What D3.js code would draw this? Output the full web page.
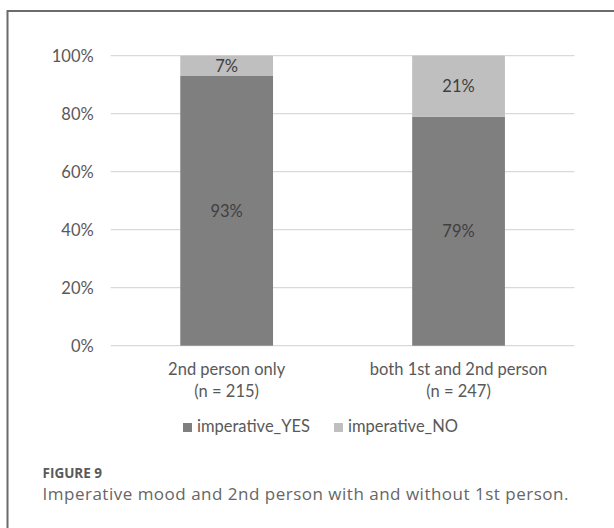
<!DOCTYPE html>
<html>
<head>
<meta charset="utf-8">
<script src="https://cdn.jsdelivr.net/npm/d3@7/dist/d3.min.js"></script>
<style>
  html, body { margin: 0; padding: 0; background: #fff; }
  svg { display: block; }
</style>
</head>
<body>
<script>
// Stacked 100% bars: share of imperative mood by person combination
const categories = ["2nd person only", "both 1st and 2nd person"];
const sampleSizes = ["(n = 215)", "(n = 247)"];
const imperativeYes = [93, 79];
const imperativeNo = [7, 21];
const seriesNames = ["imperative_YES", "imperative_NO"];
const yTicks = [0, 20, 40, 60, 80, 100];

const W = 614, H = 528;
const colors = ["#7f7f7f", "#bfbfbf"];
const font = "Lato, 'Open Sans', sans-serif";
const fs = 16.5;

const svg = d3.select("body").append("svg").attr("width", W).attr("height", H);

// Panel frame (top and left edges)
svg.append("path")
  .attr("d", `M7.5,${H} V11 H${W}`)
  .attr("fill", "none").attr("stroke", "#6b6b6b").attr("stroke-width", 2);

const plot = { left: 110.7, right: 574.5, top: 55.7, bottom: 345.7 };

const x = d3.scaleBand().domain(categories)
  .range([plot.left, plot.right]).paddingInner(0.6).paddingOuter(0.3);
const y = d3.scaleLinear().domain([0, 100]).range([plot.bottom, plot.top]);

// Gridlines
svg.append("g").selectAll("line").data(yTicks).join("line")
  .attr("x1", plot.left).attr("x2", plot.right)
  .attr("y1", d => y(d)).attr("y2", d => y(d))
  .attr("stroke", "#d9d9d9").attr("stroke-width", 1.3);

// Y axis labels
const yAxis = d3.axisLeft(y).tickValues(yTicks).tickFormat(d => d + "%").tickSize(0).tickPadding(0);
const yg = svg.append("g").attr("transform", `translate(${plot.left - 17},0)`).call(yAxis);
yg.select(".domain").remove();
yg.selectAll("text").attr("font-family", font).attr("font-size", fs)
  .attr("fill", "#595959").attr("dy", "0.35em");

// Stack the series
const rows = categories.map((c, i) => ({ cat: c, yes: imperativeYes[i], no: imperativeNo[i] }));
const stack = d3.stack().keys(["yes", "no"])(rows);

const layers = svg.append("g").selectAll("g").data(stack).join("g")
  .attr("fill", (d, i) => colors[i]);
layers.selectAll("rect").data(d => d).join("rect")
  .attr("x", d => x(d.data.cat))
  .attr("width", x.bandwidth())
  .attr("y", d => y(d[1]))
  .attr("height", d => y(d[0]) - y(d[1]));

// Value labels centred in each segment
layers.selectAll("text").data(d => d.map(s => ({ s, key: d.key }))).join("text")
  .attr("x", d => x(d.s.data.cat) + x.bandwidth() / 2)
  .attr("y", d => (y(d.s[0]) + y(d.s[1])) / 2)
  .attr("dy", "0.36em")
  .attr("text-anchor", "middle")
  .attr("font-family", font).attr("font-size", fs)
  .attr("fill", "#404040")
  .text(d => d.s.data[d.key] + "%");

// Category labels (two lines)
const xl = svg.append("g").selectAll("text").data(categories).join("text")
  .attr("text-anchor", "middle")
  .attr("font-family", font).attr("font-size", fs).attr("fill", "#595959");
xl.append("tspan").attr("x", d => x(d) + x.bandwidth() / 2).attr("y", 375).text(d => d);
xl.append("tspan").attr("x", d => x(d) + x.bandwidth() / 2).attr("y", 397)
  .text((d, i) => sampleSizes[i]);

// Legend
const legendX = [183, 334];
const lg = svg.append("g").selectAll("g").data(seriesNames).join("g")
  .attr("transform", (d, i) => `translate(${legendX[i]},0)`);
lg.append("rect").attr("x", 0).attr("y", 423).attr("width", 9).attr("height", 9)
  .attr("fill", (d, i) => colors[i]);
lg.append("text").attr("x", 14).attr("y", 432)
  .attr("font-family", font).attr("font-size", fs).attr("fill", "#595959")
  .text(d => d);

// Figure caption
svg.append("text").attr("x", 42.5).attr("y", 478)
  .attr("font-family", "'Open Sans', sans-serif").attr("font-size", 13.5).attr("font-weight", 700)
  .attr("fill", "#5a5a5a").text("FIGURE 9");
svg.append("text").attr("x", 42.5).attr("y", 499.5)
  .attr("font-family", "'Open Sans', sans-serif").attr("font-size", 17)
  .attr("letter-spacing", 0.5)
  .attr("fill", "#666").text("Imperative mood and 2nd person with and without 1st person.");
</script>
</body>
</html>
